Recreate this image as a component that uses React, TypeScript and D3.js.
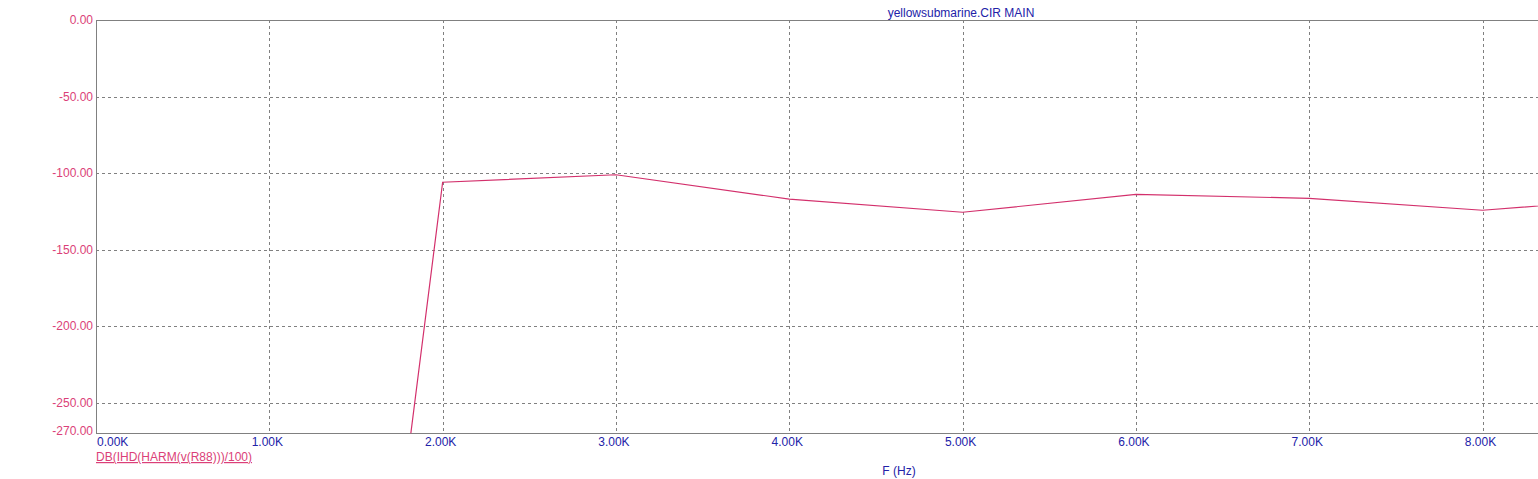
import React from "react";
import * as d3 from "d3";

const freqK = [1, 2, 3, 4, 5, 6, 7, 8, 9];
const dbValues = [-1000, -106.0, -101.1, -117.0, -125.6, -113.9, -116.5, -124.3, -115.6];
const xTicks = [0, 1, 2, 3, 4, 5, 6, 7, 8];
const yTicks = [0, -50, -100, -150, -200, -250, -270];
const yGrid = [-50, -100, -150, -200, -250];
const xGrid = [1, 2, 3, 4, 5, 6, 7, 8];

const W = 1538;
const H = 479;
const left = 96;
const right = 1538;
const top = 20;
const bottom = 433.3;

const FONT = "'Liberation Sans', Arial, sans-serif";
const LINE_COLOR = "#d3306c";
const Y_LABEL = "#db3f78";
const BLUE = "#2222a8";
const GRID = "#808080";

export default function App() {
  const x = d3.scaleLinear().domain([0, 8.32]).range([left, right]);
  const y = d3.scaleLinear().domain([-270, 0]).range([bottom, top]);
  const line = d3
    .line<number>()
    .x((_, i) => x(freqK[i]))
    .y((d) => y(d));
  const path = line(dbValues) || "";

  return (
    <svg
      width={W}
      height={H}
      style={{ position: "absolute", left: 0, top: 0, background: "#fff" }}
      fontFamily={FONT}
    >
      <defs>
        <clipPath id="plot">
          <rect x={left} y={top} width={right - left} height={bottom - top} />
        </clipPath>
      </defs>
      <rect x={0} y={0} width={W} height={H} fill="#fff" />
      {/* grid */}
      {yGrid.map((v) => (
        <line
          key={"yg" + v}
          x1={left}
          x2={right}
          y1={Math.round(y(v)) + 0.5}
          y2={Math.round(y(v)) + 0.5}
          stroke={GRID}
          strokeDasharray="3,3"
          strokeWidth={1}
        />
      ))}
      {xGrid.map((v) => (
        <line
          key={"xg" + v}
          x1={Math.round(x(v)) + 0.5}
          x2={Math.round(x(v)) + 0.5}
          y1={top}
          y2={bottom}
          stroke={GRID}
          strokeDasharray="3,3"
          strokeWidth={1}
        />
      ))}
      {/* axes frame */}
      <line x1={left + 0.5} x2={left + 0.5} y1={top} y2={bottom} stroke={GRID} />
      <line x1={left} x2={right} y1={top + 0.5} y2={top + 0.5} stroke={GRID} />
      <line x1={left} x2={right} y1={Math.round(bottom) + 0.5} y2={Math.round(bottom) + 0.5} stroke={GRID} />
      {/* data */}
      <path d={path} fill="none" stroke={LINE_COLOR} strokeWidth={1.2} clipPath="url(#plot)" />
      {/* y labels */}
      {yTicks.map((v) => (
        <text
          key={"yl" + v}
          x={93}
          y={v === -270 ? y(v) - 2 : y(v)}
          textAnchor="end"
          dominantBaseline="central"
          fontSize={12}
          fill={Y_LABEL}
        >
          {v.toFixed(2)}
        </text>
      ))}
      {/* x labels */}
      {xTicks.map((v) => (
        <text
          key={"xl" + v}
          x={v === 0 ? left + 1 : x(v) - 2}
          y={446}
          textAnchor={v === 0 ? "start" : "middle"}
          fontSize={12}
          fill={BLUE}
        >
          {v.toFixed(2) + "K"}
        </text>
      ))}
      {/* title */}
      <text x={961} y={17} textAnchor="middle" fontSize={12} fill={BLUE}>
        yellowsubmarine.CIR MAIN
      </text>
      {/* legend */}
      <text x={96} y={461} fontSize={12} fill={Y_LABEL} textDecoration="underline">
        DB(IHD(HARM(v(R88)))/100)
      </text>
      {/* x axis title */}
      <text x={899} y={475} textAnchor="middle" fontSize={12} fill={BLUE}>
        F (Hz)
      </text>
    </svg>
  );
}
